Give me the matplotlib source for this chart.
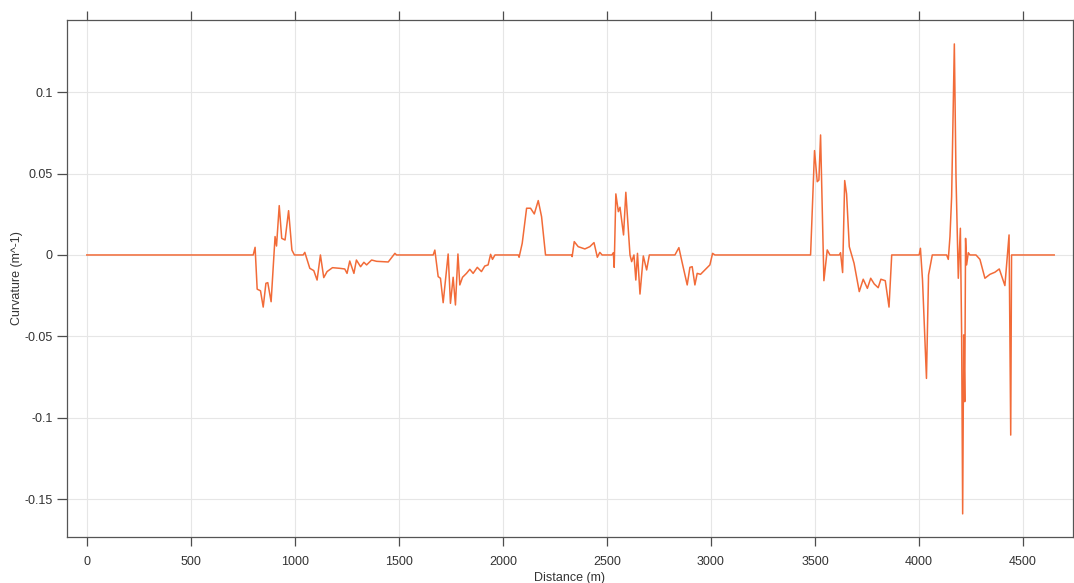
import numpy as np
from matplotlib import pyplot as plt

plt.rcParams['font.family'] = ['Liberation Sans', 'DejaVu Sans']

# curvature profile along the route (distance in m, curvature in 1/m)
distance = [
    0, 800, 809, 819, 835, 848, 861, 870, 886, 905, 912, 925, 937, 953, 970, 986,
    998, 1040, 1048, 1072, 1091, 1107, 1123, 1139, 1155, 1181, 1216, 1240, 1251,
    1264, 1284, 1296, 1316, 1332, 1345, 1369, 1393, 1449, 1481, 1489,
    1665, 1673, 1689, 1700, 1713, 1737, 1748, 1761, 1772, 1784, 1793, 1806, 1825,
    1841, 1857, 1877, 1897, 1913, 1929, 1941, 1950, 1962,
    2074, 2078, 2093, 2114, 2133, 2151, 2170, 2186, 2205,
    2330, 2333, 2343, 2362, 2394, 2418, 2438, 2454, 2466, 2477,
    2524, 2531, 2535, 2543, 2555, 2563, 2580, 2591, 2611, 2619, 2630, 2639, 2647,
    2659, 2675, 2691, 2704,
    2827, 2846, 2859, 2886, 2899, 2910, 2923, 2934, 2950, 2971, 2995, 3008, 3019,
    3479, 3498, 3511, 3519, 3527, 3543, 3559, 3572, 3617, 3623, 3633, 3643, 3652,
    3665, 3688, 3713, 3732, 3752, 3768, 3785, 3804, 3817, 3838, 3856, 3869,
    4001, 4007, 4017, 4036, 4046, 4064, 4133, 4141, 4149, 4157, 4170, 4178, 4189,
    4199, 4205, 4210, 4215, 4220, 4224, 4229, 4237, 4245, 4274, 4293, 4317, 4341,
    4365, 4386, 4413, 4433, 4441, 4445, 4650,
]
curvature = [
    0, 0, 0.0047, -0.021, -0.022, -0.032, -0.0174, -0.017, -0.0287, 0.0113, 0.0055,
    0.0303, 0.0102, 0.0092, 0.0272, 0.003,
    0, 0, 0.0016, -0.0082, -0.0096, -0.0154, 0, -0.0139, -0.0102, -0.0078, -0.0082,
    -0.0086, -0.0113, -0.0037, -0.0113, -0.0031, -0.0072, -0.0045, -0.0061,
    -0.0031, -0.0039, -0.0043, 0.001, 0,
    0, 0.003, -0.0133, -0.0143, -0.0293, 0.0006, -0.0297, -0.0137, -0.0307, 0.0006,
    -0.0184, -0.0137, -0.0113, -0.0088, -0.0113, -0.0076, -0.0102, -0.0068,
    -0.0061, 0.0004, -0.0027, 0,
    0, -0.0014, 0.0072, 0.0287, 0.0287, 0.0252, 0.0334, 0.0235, 0,
    0, -0.001, 0.0082, 0.0051, 0.0037, 0.0051, 0.0076, -0.0014, 0.0016, 0,
    0, 0.0014, -0.0076, 0.0375, 0.0266, 0.0293, 0.0123, 0.0385, 0, -0.0041, 0,
    -0.0154, 0.001, -0.024, -0.0006, -0.0092, 0,
    0, 0.0045, -0.0031, -0.0184, -0.0076, -0.0072, -0.0184, -0.0113, -0.0119,
    -0.0092, -0.0061, 0.001, 0,
    0, 0.0641, 0.045, 0.046, 0.0737, -0.0158, 0.0031, 0, 0, 0.0014, -0.0108,
    0.0457, 0.0375, 0.0051, -0.0051, -0.0225, -0.0149, -0.0205, -0.0143, -0.0178,
    -0.0201, -0.0149, -0.0158, -0.032, 0,
    0, 0.0041, -0.0154, -0.0758, -0.0123, 0, 0, -0.0027, 0.0113, 0.0358, 0.1296,
    0.048, -0.0143, 0.0164, -0.0481, -0.159, -0.0491, -0.0901, 0.0102, -0.0061,
    0.0014, 0, 0, -0.0027, -0.0143, -0.0119, -0.0106, -0.0086, -0.0188, 0.0123,
    -0.1106, 0, 0,
]

xticks = [0, 500, 1000, 1500, 2000, 2500, 3000, 3500, 4000, 4500]
yticks = [-0.15, -0.1, -0.05, 0, 0.05, 0.1]
ytick_labels = ['-0.15', '-0.1', '-0.05', '0', '0.05', '0.1']

fig = plt.figure(figsize=(10.74, 5.83), dpi=100)
ax = fig.add_axes([0.0624, 0.0789, 0.9366, 0.8868])

ax.plot(distance, curvature, color='#f26b38', linewidth=1.1)

ax.set_xlim(-95, 4740)
ax.set_ylim(-0.1732, 0.1443)
ax.set_xticks(xticks)
ax.set_yticks(yticks)
ax.set_yticklabels(ytick_labels)

ax.grid(True, color='#e6e6e6', linewidth=0.8)
ax.set_axisbelow(True)

ax.tick_params(axis='x', direction='out', length=6.5, width=0.9, color='#4d4d4d',
               labelsize=9, labelcolor='#333333', pad=7, top=True)
ax.tick_params(axis='y', direction='out', length=7, width=0.9, color='#4d4d4d',
               labelsize=9, labelcolor='#333333', pad=3.5, right=False)
for side in ax.spines.values():
    side.set_color('#555555')
    side.set_linewidth(0.9)

ax.set_xlabel('Distance (m)', fontsize=9, color='#333333', labelpad=3)
ax.set_ylabel('Curvature (m^-1)', fontsize=9, color='#333333')
ax.yaxis.set_label_coords(-0.0437, 0.5)

fig.savefig('out.png', dpi=100)
